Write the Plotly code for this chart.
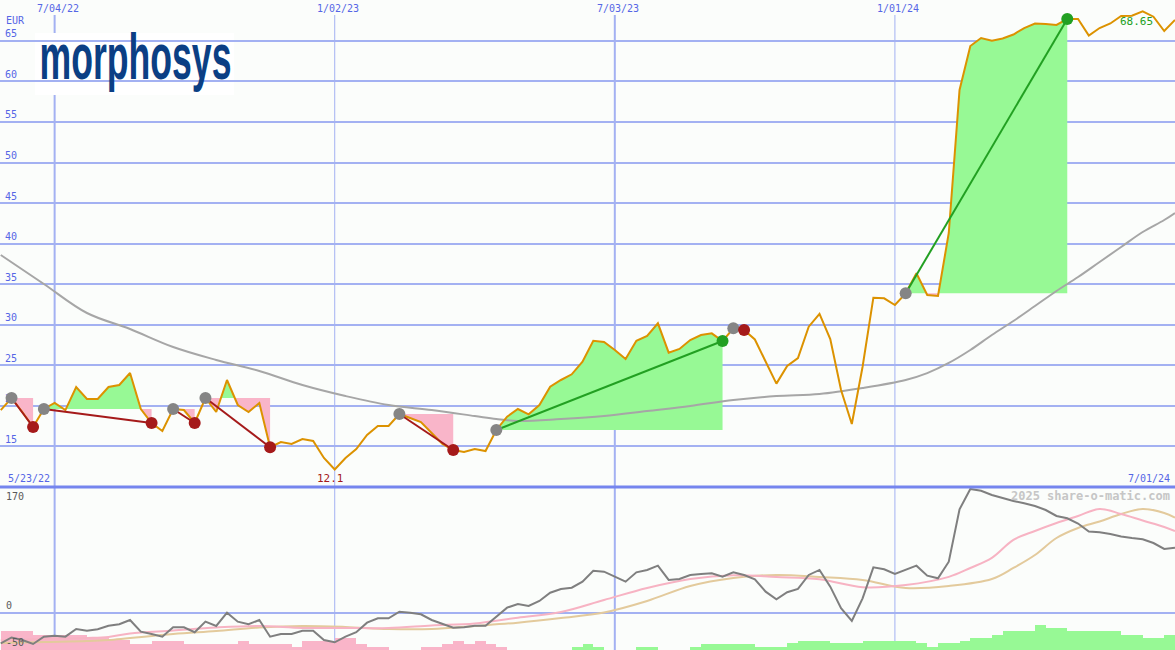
import pandas as pd
import plotly.graph_objects as go

# ---------------- data ----------------
start = pd.Timestamp("2022-05-30")
n_weeks = 110
dates = [start + pd.Timedelta(weeks=i) for i in range(n_weeks)]

price = [19.44, 20.93, 19.2, 17.35, 19.57, 20.31, 19.44, 22.28, 20.8, 20.8,
         22.28, 22.53, 24.01, 19.57, 17.84, 16.85, 19.57, 19.44, 17.84, 20.93,
         19.2, 23.15, 20.06, 19.2, 20.31, 14.85, 15.49, 15.25, 15.86, 15.62,
         13.52, 12.1, 13.52, 14.63, 16.36, 17.47, 17.47, 18.95, 18.46, 17.96,
         16.6, 15.25, 14.51, 14.26, 14.63, 14.38, 16.98, 18.62, 19.57, 18.91,
         20.06, 22.32, 23.15, 23.85, 25.41, 28.0, 27.84, 26.85, 25.74, 28.0,
         28.58, 30.15, 26.52, 26.98, 28.09, 28.7, 28.91, 27.96, 29.53, 29.32,
         28.15, 25.35, 22.7, 24.88, 25.86, 29.73, 31.3, 28.21, 21.91, 17.72,
         24.79, 33.31, 33.23, 32.41, 33.85, 36.32, 33.64, 33.52, 41.3, 58.95,
         64.38, 65.37, 65.04, 65.3, 65.8, 66.6, 67.16, 67.1, 66.98, 67.72,
         67.72, 65.66, 66.6, 67.16, 68.09, 68.12, 68.65, 68.0, 66.23, 67.6]

ma_weeks = [0, 4, 8, 12, 16, 20, 24, 28, 32, 36, 40, 44, 46, 48, 52, 56, 60, 64,
            68, 72, 76, 80, 84, 86, 88, 90, 92, 94, 96, 98, 100, 102, 104, 106, 108, 109]
ma_vals = [38.58, 35.0, 31.42, 29.44, 27.22, 25.62, 24.26, 22.53, 21.17, 20.06,
           19.44, 18.7, 18.33, 18.09, 18.33, 18.7, 19.32, 19.94, 20.68, 21.17,
           21.42, 22.16, 23.15, 24.0, 25.25, 26.85, 28.7, 30.43, 32.28, 34.14,
           35.86, 37.72, 39.57, 41.42, 42.9, 43.77]

entry_weeks = [1, 4, 16, 19, 37, 46, 68, 84]
exit_weeks = [3, 14, 18, 25, 42, 67, 69, 99]

osc = [-40.9, -33.0, -36.4, -41.8, -31.9, -30.6, -31.9, -21.5, -23.8, -21.9,
       -17.0, -15.1, -9.2, -25.1, -28.2, -31.9, -19.1, -19.1, -25.9, -11.5,
       -17.4, 0.7, -11.5, -15.1, -9.2, -31.9, -28.2, -28.2, -23.8, -23.8,
       -36.4, -39.5, -31.9, -25.9, -12.9, -6.9, -6.9, 2.0, 0.7, -1.5,
       -9.2, -14.7, -19.7, -19.1, -17.0, -17.0, -5.2, 7.5, 12.5, 9.8,
       16.6, 27.8, 32.9, 34.6, 42.8, 57.7, 56.4, 49.6, 42.8, 55.5,
       58.7, 64.5, 45.1, 46.4, 51.9, 53.2, 54.2, 49.6, 55.5, 51.9,
       46.0, 29.2, 18.9, 28.4, 32.9, 51.9, 58.7, 36.0, 6.7, -10.6,
       20.2, 62.3, 59.6, 53.2, 58.7, 64.5, 50.9, 47.4, 69.9, 141.1,
       168.7, 166.3, 160.5, 156.0, 152.4, 149.2, 145.6, 140.1, 132.0, 128.9,
       121.8, 110.9, 109.9, 107.5, 104.2, 102.1, 100.4, 95.3, 87.2, 89.0]

sig_fast_weeks = [0, 4, 8, 10, 12, 16, 20, 24, 28, 32, 36, 40, 44, 48, 52, 56, 60, 64,
                  68, 72, 76, 80, 84, 88, 90, 92, 94, 96, 98, 100, 102, 104, 106, 108, 109]
sig_fast = [-36.6, -35, -33.7, -32.3, -27.6, -23.5, -19.4, -17.4, -20.1, -20.1,
            -20.1, -16.7, -14.0, -6.1, 1.6, 17.9, 34.2, 46.4, 51.5, 49.2,
            46.0, 35.3, 38.3, 49.3, 61.4, 75.0, 99.5, 111.6, 122.5, 132.0,
            141.5, 134.7, 125.9, 117.1, 111.6]

sig_slow_weeks = [0, 4, 8, 10, 16, 20, 24, 28, 32, 36, 40, 44, 48, 52, 56, 60, 64, 68,
                  72, 76, 80, 84, 88, 92, 94, 96, 98, 100, 102, 104, 106, 108, 109]
sig_slow = [-40.5, -39.1, -37.8, -36.4, -28.2, -24.2, -19.4, -17.4, -18.7, -21.5,
            -21.5, -17.4, -12.9, -6.5, 1.0, 16.6, 36.9, 47.8, 51.9, 49.2,
            45.1, 34.2, 36.9, 46.4, 61.4, 79.0, 102.1, 115.7, 124.5, 134.7,
            141.5, 136.1, 129.7]

hist = ([-25.8] * 3 + [-20.4] * 5 + [-16.3] * 2 + [-13.6] * 2 + [-8.1] * 2 +
        [-12.2] * 3 + [-8.1] + [-8.1] * 4 + [-12.2] + [-8.1] * 3 + [-8.1] + [-4.5] +
        [-12.2] * 3 + [-16.3] * 2 + [-8.1] + [-4.5] * 2 + [0] * 3 + [-4.5] * 2 +
        [-8.1] + [-12.2] + [-8.1] + [-12.2] + [-8.1] + [-4.5] + [0] * 6 + [4.5] +
        [8.1] + [4.5] + [0] * 3 + [4.5] * 2 + [0] * 3 + [4.5] + [8.1] * 5 + [4.5] * 3 +
        [9.1] + [12.2] * 3 + [9.1] * 3 + [12.2] * 5 + [9.1] + [4.5] + [9.1] * 2 +
        [12.2] + [16.7] * 2 + [20.4] + [25.8] * 3 + [33.9] + [30.3] * 2 +
        [25.8] * 5 + [20.4] * 2 + [16.7] * 2 + [20.4])

price_ticks = [15, 20, 25, 30, 35, 40, 45, 50, 55, 60, 65]
date_ticks = ["2022-07-04", "2023-01-02", "2023-07-03", "2024-01-01"]
date_tick_text = ["7/04/22", "1/02/23", "7/03/23", "1/01/24"]
date_tick_width = [2, 1, 2, 1]

# ---------------- styles ----------------
W, H = 1175, 650
BG = "#FBFDFB"
GRID = "#A3B1F2"
BLUE_TXT = "#5566E6"
ORANGE = "#DC9200"
GREEN_FILL = "#97F995"
PINK_FILL = "#F9B5C9"
LOSS = "#A51A1A"
GAIN = "#22A022"
MONO = "DejaVu Sans Mono"

def py(px):  # pixel row -> paper y
    return 1 - px / H

fig = go.Figure()

# trade fills
gx, gy, rx, ry = [], [], [], []
for a, b in zip(entry_weeks, exit_weeks):
    L = price[a]
    pts = []
    for j in range(a, b + 1):
        pts.append((dates[j], price[j]))
        if j < b:
            p0, p1 = price[j], price[j + 1]
            if (p0 - L) * (p1 - L) < 0:
                f = (L - p0) / (p1 - p0)
                pts.append((dates[j] + pd.Timedelta(days=7 * f), L))
    xs = [t for t, _ in pts]
    gx += xs + xs[::-1] + [None]
    gy += [max(p, L) for _, p in pts] + [L] * len(pts) + [None]
    rx += xs + xs[::-1] + [None]
    ry += [min(p, L) for _, p in pts] + [L] * len(pts) + [None]

fig.add_trace(go.Scatter(x=gx, y=gy, mode="lines", fill="toself", fillcolor=GREEN_FILL,
                         line=dict(width=0, color=GREEN_FILL), hoverinfo="skip"))
fig.add_trace(go.Scatter(x=rx, y=ry, mode="lines", fill="toself", fillcolor=PINK_FILL,
                         line=dict(width=0, color=PINK_FILL), hoverinfo="skip"))

# moving average
fig.add_trace(go.Scatter(x=[dates[i] for i in ma_weeks], y=ma_vals, mode="lines",
                         line=dict(color="#A6A6A6", width=2, shape="spline"), hoverinfo="skip"))
# price
fig.add_trace(go.Scatter(x=dates, y=price, mode="lines",
                         line=dict(color=ORANGE, width=2), hoverinfo="skip"))
# trade lines and dots
for a, b in zip(entry_weeks, exit_weeks):
    col = GAIN if price[b] > price[a] else LOSS
    fig.add_trace(go.Scatter(x=[dates[a], dates[b]], y=[price[a], price[b]], mode="lines",
                             line=dict(color=col, width=2), hoverinfo="skip"))
fig.add_trace(go.Scatter(x=[dates[a] for a in entry_weeks], y=[price[a] for a in entry_weeks],
                         mode="markers", marker=dict(size=12, color="#858585"), hoverinfo="skip"))
fig.add_trace(go.Scatter(x=[dates[b] for b in exit_weeks], y=[price[b] for b in exit_weeks],
                         mode="markers",
                         marker=dict(size=12, color=[GAIN if price[b] > price[a] else LOSS
                                                     for a, b in zip(entry_weeks, exit_weeks)]),
                         hoverinfo="skip"))

# lower panel
fig.add_trace(go.Bar(x=[dates[i] + pd.Timedelta(days=3.5) for i in range(len(hist))],
                     y=[abs(h) for h in hist], base=-50, width=7 * 86400000,
                     marker=dict(color=[PINK_FILL if h < 0 else GREEN_FILL for h in hist],
                                 line=dict(width=0)),
                     xaxis="x2", yaxis="y2", hoverinfo="skip"))
fig.add_trace(go.Scatter(x=[dates[i] for i in sig_slow_weeks], y=sig_slow, mode="lines",
                         line=dict(color="#E3CA9C", width=2, shape="spline"),
                         xaxis="x2", yaxis="y2", hoverinfo="skip"))
fig.add_trace(go.Scatter(x=[dates[i] for i in sig_fast_weeks], y=sig_fast, mode="lines",
                         line=dict(color="#F7B3C3", width=2, shape="spline"),
                         xaxis="x2", yaxis="y2", hoverinfo="skip"))
fig.add_trace(go.Scatter(x=dates, y=osc, mode="lines",
                         line=dict(color="#7F7F7F", width=2),
                         xaxis="x2", yaxis="y2", hoverinfo="skip"))

XR = ["2022-05-29 12:00", "2024-07-01"]
shapes = []
for d, w in zip(date_ticks, date_tick_width):
    shapes.append(dict(type="line", xref="x", yref="paper", x0=d, x1=d, y0=0, y1=py(15),
                       line=dict(color=GRID, width=w), layer="below"))
# logo box
shapes.append(dict(type="rect", xref="paper", yref="paper", x0=35 / W, x1=234 / W,
                   y0=py(95), y1=py(33), fillcolor="white", line=dict(width=0), layer="below"))
# panel divider
shapes.append(dict(type="line", xref="paper", yref="paper", x0=0, x1=1, y0=py(487), y1=py(487),
                   line=dict(color="#7585EE", width=3), layer="above"))

ann = []
ann.append(dict(text="EUR", x=0, xref="paper", xanchor="left", xshift=4, y=py(20), yref="paper",
                yanchor="middle", showarrow=False, font=dict(family=MONO, size=10, color=BLUE_TXT)))
for d, t in zip(date_ticks, date_tick_text):
    ann.append(dict(text=t, x=d, xref="x", xanchor="center", xshift=3, y=py(8), yref="paper",
                    yanchor="middle", showarrow=False, font=dict(family=MONO, size=10, color=BLUE_TXT)))
ann.append(dict(text="5/23/22", x=0, xref="paper", xanchor="left", xshift=6, y=py(478), yref="paper",
                yanchor="middle", showarrow=False, font=dict(family=MONO, size=10, color=BLUE_TXT)))
ann.append(dict(text="7/01/24", x=1, xref="paper", xanchor="right", xshift=-3, y=py(478), yref="paper",
                yanchor="middle", showarrow=False, font=dict(family=MONO, size=10, color=BLUE_TXT)))
imin = price.index(min(price))
imax = price.index(max(price))
ann.append(dict(text=f"{min(price):g}", x=dates[imin], xref="x", xanchor="center", xshift=-4,
                y=py(478), yref="paper", yanchor="middle", showarrow=False,
                font=dict(family=MONO, size=11, color=LOSS)))
ann.append(dict(text=f"{max(price):.2f}", x=dates[imax], xref="x", xanchor="center", xshift=-6,
                y=max(price), yref="y", yanchor="top", yshift=-2, showarrow=False,
                font=dict(family=MONO, size=11, color=GAIN)))
for v, t, anc, sh in [(170, "170", "top", -1), (0, "0", "bottom", 0), (-50, "-50", "bottom", 0)]:
    ann.append(dict(text=t, x=0, xref="paper", xanchor="left", xshift=4, y=v, yref="y2",
                    yanchor=anc, yshift=sh, showarrow=False,
                    font=dict(family=MONO, size=10, color="#5A5A5A")))
ann.append(dict(text="<b>2025 share-o-matic.com</b>", x=1, xref="paper", xanchor="right", xshift=-3,
                y=py(496), yref="paper", yanchor="middle", showarrow=False,
                font=dict(family=MONO, size=12, color="#C6C6C6")))
ann.append(dict(text="morphosys", x=135 / W, xref="paper", xanchor="center",
                y=py(57), yref="paper", yanchor="middle", showarrow=False,
                font=dict(family="Liberation Sans", size=64, color="#0B3F84", weight="bold")))

fig.update_layout(
    width=W, height=H, margin=dict(l=0, r=0, t=0, b=0, pad=0),
    paper_bgcolor=BG, plot_bgcolor=BG, showlegend=False, bargap=0,
    xaxis=dict(domain=[0, 1], range=XR, visible=False, anchor="y"),
    yaxis=dict(domain=[1 - 487 / H, 1], range=[9.94, 70.06], tickvals=price_ticks,
               showticklabels=True, ticklabelposition="inside top", layer="below traces",
               tickfont=dict(family=MONO, size=10, color=BLUE_TXT), ticklabelstandoff=2,
               showgrid=True, gridcolor=GRID, gridwidth=2,
               zeroline=False, showline=False, ticks="", fixedrange=True),
    xaxis2=dict(domain=[0, 1], range=XR, visible=False, anchor="y2", matches="x"),
    yaxis2=dict(domain=[0, 1 - 488 / H], range=[-50, 170], tickvals=[0],
                showticklabels=False, showgrid=True, gridcolor=GRID, gridwidth=2,
                zeroline=False, showline=False, ticks="", anchor="x2"),
    shapes=shapes, annotations=ann,
)

post = """
document.body.style.margin='0';
document.body.style.overflow='hidden';
var gd=document.getElementById('{plot_id}');
gd.querySelectorAll('text.annotation-text').forEach(function(t){
  if(t.textContent==='morphosys'){
    t.setAttribute('textLength','192');
    t.setAttribute('lengthAdjust','spacingAndGlyphs');
  }
});
"""
fig.write_html("out.html", config={"displayModeBar": False}, post_script=post)
